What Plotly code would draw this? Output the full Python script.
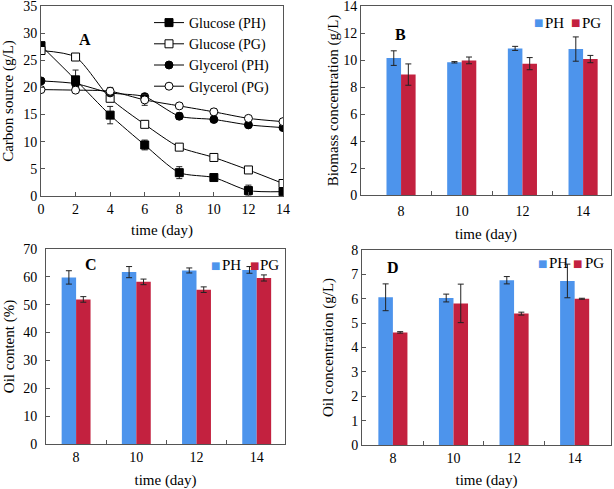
import plotly.graph_objects as go

# ---- Panel A data ----
time_a = [0, 2, 4, 6, 8, 10, 12, 14]
glucose_ph = [27.7, 21.4, 14.9, 9.4, 4.3, 3.4, 1.0, 0.8]
glucose_ph_err = [0.4, 1.8, 1.6, 0.9, 1.1, 0.3, 1.0, 0.3]
glucose_pg = [26.8, 25.6, 18.0, 13.2, 9.0, 7.1, 4.8, 2.3]
glucose_pg_err = [0.3, 0.3, 0.4, 0.5, 0.3, 0.3, 0.3, 0.3]
glycerol_ph = [21.2, 20.7, 19.0, 18.3, 14.7, 14.1, 13.1, 12.6]
glycerol_ph_err = [0.3, 0.3, 0.3, 0.4, 0.6, 0.3, 0.3, 0.3]
glycerol_pg = [19.6, 19.5, 19.3, 17.7, 16.6, 15.5, 14.3, 13.7]
glycerol_pg_err = [0.2, 0.2, 0.7, 1.0, 0.3, 0.6, 0.3, 0.3]

# ---- Bar panels ----
days = [8, 10, 12, 14]
biomass_ph = [10.14, 9.83, 10.86, 10.81]
biomass_ph_err = [0.54, 0.05, 0.15, 0.9]
biomass_pg = [8.92, 9.97, 9.73, 10.07]
biomass_pg_err = [0.79, 0.25, 0.45, 0.27]

oil_content_ph = [59.8, 61.7, 62.3, 62.5]
oil_content_ph_err = [2.4, 2.0, 0.9, 1.2]
oil_content_pg = [51.9, 58.2, 55.4, 59.6]
oil_content_pg_err = [1.0, 1.0, 1.0, 1.1]

oil_conc_ph = [6.06, 6.03, 6.76, 6.73]
oil_conc_ph_err = [0.55, 0.16, 0.15, 0.69]
oil_conc_pg = [4.62, 5.81, 5.39, 6.00]
oil_conc_pg_err = [0.03, 0.79, 0.06, 0.02]

series_names = ["PH", "PG"]

BLUE = "#4d94ec"
RED = "#c3213f"
FONT = "Liberation Serif"
W, H = 614, 489

fig = go.Figure()

def err(vals):
    return dict(type="data", array=vals, visible=True, color="#222", thickness=1, width=3)

# Panel A lines
specs_a = [
    ("Glucose (PH)", glucose_ph, glucose_ph_err, "square", "black"),
    ("Glucose (PG)", glucose_pg, glucose_pg_err, "square", "white"),
    ("Glycerol (PH)", glycerol_ph, glycerol_ph_err, "circle", "black"),
    ("Glycerol (PG)", glycerol_pg, glycerol_pg_err, "circle", "white"),
]
for name, vals, e, sym, fill in specs_a:
    fig.add_trace(go.Scatter(
        x=time_a, y=vals, name=name, mode="lines+markers",
        line=dict(color="black", width=1, shape="spline", smoothing=0.7),
        marker=dict(symbol=sym, size=8, color=fill, line=dict(color="black", width=1)),
        error_y=err(e), xaxis="x", yaxis="y", legend="legend",
    ))

bar_panels = [
    ("x2", "y2", biomass_ph, biomass_ph_err, biomass_pg, biomass_pg_err),
    ("x3", "y3", oil_content_ph, oil_content_ph_err, oil_content_pg, oil_content_pg_err),
    ("x4", "y4", oil_conc_ph, oil_conc_ph_err, oil_conc_pg, oil_conc_pg_err),
]
for xa, ya, ph, phe, pg, pge in bar_panels:
    fig.add_trace(go.Bar(x=days, y=ph, name=series_names[0], marker=dict(color=BLUE, line=dict(width=0)),
                         error_y=err(phe), xaxis=xa, yaxis=ya, showlegend=False))
    fig.add_trace(go.Bar(x=days, y=pg, name=series_names[1], marker=dict(color=RED, line=dict(width=0)),
                         error_y=err(pge), xaxis=xa, yaxis=ya, showlegend=False))

def px_dom(a, b, n):
    return [a / n, b / n]

def ydom(top, bottom):
    return [1 - bottom / H, 1 - top / H]

axis_common = dict(showline=True, linecolor="#555", linewidth=1, mirror=True, showgrid=False,
                   zeroline=False, tickfont=dict(family=FONT, size=14, color="black"),
                   ticks="inside", ticklen=4, tickcolor="#555", automargin=False,
                   ticklabeloverflow="allow")
title_font = dict(family=FONT, size=15, color="black")

layout = dict(
    template="none",
    width=W, height=H, margin=dict(l=0, r=0, t=0, b=0, autoexpand=False),
    paper_bgcolor="white", plot_bgcolor="white",
    barmode="group", bargap=0.52, bargroupgap=0,
    font=dict(family=FONT, color="black"),
    xaxis=dict(domain=px_dom(41, 283, W), anchor="y", range=[0, 14], tickvals=time_a,
               title=dict(text="time (day)", font=title_font, standoff=8), **axis_common),
    yaxis=dict(domain=ydom(6, 196), anchor="x", range=[0, 35], dtick=5,
               title=dict(text="Carbon source (g/L)", font=title_font, standoff=6), **axis_common),
)

# key, ykey, xname, yname, x px, y px, x range, y range, dtick, y title, y title standoff,
# y label standoff, x label standoff
bar_axes = [
    ("xaxis2", "yaxis2", "x2", "y2", (361, 611), (6, 195), [6.68, 14.92], [0, 14], 2,
     "Biomass concentration (g/L)", 0, 0, 3),
    ("xaxis3", "yaxis3", "x3", "y3", (46, 285), (249, 444), [7.0, 14.94], [0, 70], 10,
     "Oil content (%)", 4, 5, 0),
    ("xaxis4", "yaxis4", "x4", "y4", (362, 611), (250, 445), [6.98, 15.2], [0, 8], 1,
     "Oil concentration (g/L)", 13, 0, 0),
]
for xk, yk, xn, yn, xd, yd, xr, yr, dt, yt, ys, yls, xls in bar_axes:
    xc = dict(axis_common)
    xc["ticks"] = ""
    layout[xk] = dict(domain=px_dom(xd[0], xd[1], W), anchor=yn, range=xr, tickvals=days,
                      minor=dict(tickmode="array", tickvals=[9, 11, 13], ticks="inside",
                                 ticklen=4, tickcolor="#555"),
                      ticklabelstandoff=xls,
                      title=dict(text="time (day)", font=title_font, standoff=10), **xc)
    layout[yk] = dict(domain=ydom(yd[0], yd[1]), anchor=xn, range=yr, dtick=dt,
                      ticklabelstandoff=yls,
                      title=dict(text=yt, font=title_font, standoff=ys), **axis_common)

layout["legend"] = dict(x=275 / W, y=1 - 7 / H, xanchor="right", yanchor="top",
                        font=dict(family=FONT, size=14, color="black"),
                        bgcolor="rgba(0,0,0,0)", tracegroupgap=0,
                        itemwidth=30, borderwidth=0)

fig.update_layout(**layout)

# compact legends for bar panels (square swatch + label), as text
bar_legends = [  # (PH square x, PH text x, PG square x, PG text x, y center)
    (538, 543, 575, 580, 23),
    (215, 220, 254, 258, 265),
    (542, 547, 577, 583, 263),
]
for sq1, t1, sq2, t2, yc in bar_legends:
    for sqx, tx, col, nm in [(sq1, t1, BLUE, series_names[0]), (sq2, t2, RED, series_names[1])]:
        fig.add_annotation(text="■", xref="paper", yref="paper", x=sqx / W, y=1 - yc / H,
                           xanchor="center", yanchor="middle", showarrow=False,
                           font=dict(family="DejaVu Sans", size=10, color=col))
        fig.add_annotation(text=nm, xref="paper", yref="paper", x=tx / W, y=1 - yc / H,
                           xanchor="left", yanchor="middle", showarrow=False,
                           font=dict(family=FONT, size=15, color="black"))

labels = [("A", 77, 29), ("B", 400, 24), ("C", 83, 264), ("D", 393, 267)]
for txt, px, py in labels:
    fig.add_annotation(text="<b>%s</b>" % txt, xref="paper", yref="paper",
                       x=px / W, y=1 - py / H, showarrow=False,
                       font=dict(family=FONT, size=16, color="black"))

fig.write_html("out.html", config={"displayModeBar": False},
               post_script="document.body.style.margin='0px';")
